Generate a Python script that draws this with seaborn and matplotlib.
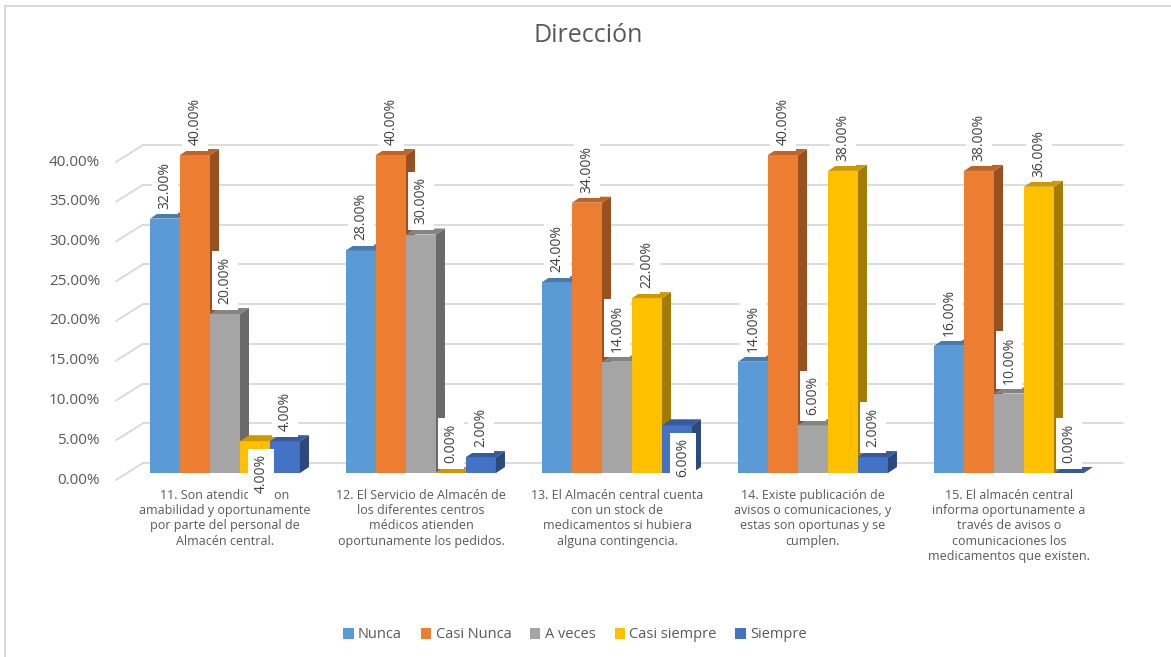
import numpy as np
import pandas as pd
import matplotlib
matplotlib.use("Agg")
import matplotlib.pyplot as plt
import seaborn as sns
from matplotlib.patches import Polygon, Rectangle
from matplotlib.lines import Line2D
from matplotlib.transforms import IdentityTransform
from matplotlib.colors import to_rgb

# ---- data ----
preguntas = [
    "11. Son atendidos con\namabilidad y oportunamente\npor parte del personal de\nAlmacén central.",
    "12. El Servicio de Almacén de\nlos diferentes centros\nmédicos atienden\noportunamente los pedidos.",
    "13. El Almacén central cuenta\ncon un stock de\nmedicamentos si hubiera\nalguna contingencia.",
    "14. Existe publicación de\navisos o comunicaciones, y\nestas son oportunas y se\ncumplen.",
    "15. El almacén central\ninforma oportunamente a\ntravés de avisos o\ncomunicaciones los\nmedicamentos que existen.",
]
respuestas = ["Nunca", "Casi Nunca", "A veces", "Casi siempre", "Siempre"]
nunca = [0.32, 0.28, 0.24, 0.14, 0.16]
casi_nunca = [0.40, 0.40, 0.34, 0.40, 0.38]
a_veces = [0.20, 0.30, 0.14, 0.06, 0.10]
casi_siempre = [0.04, 0.00, 0.22, 0.38, 0.36]
siempre = [0.04, 0.02, 0.06, 0.02, 0.00]
ticks = [0.0, 0.05, 0.10, 0.15, 0.20, 0.25, 0.30, 0.35, 0.40]
titulo = "Dirección"

# ---- style ----
colores = ["#5B9BD5", "#ED7D31", "#A5A5A5", "#FFC000", "#4472C4"]
gris_texto = "#595959"
gris_grid = "#D9D9D9"
# labels drawn just under the top of their bar: (question index, answer index)
etiquetas_abajo = {(0, 3), (2, 4)}

series = [nunca, casi_nunca, a_veces, casi_siempre, siempre]
df = pd.DataFrame(
    [(p, r, v) for r, vals in zip(respuestas, series) for p, v in zip(preguntas, vals)],
    columns=["pregunta", "respuesta", "valor"],
)

DPI = 100
W, H = 1171, 657


def px(n):
    """pixels -> points"""
    return n * 72.0 / DPI


def pct(v):
    return f"{v * 100:.2f}%"


def shade(c, f):
    return tuple(np.clip(np.array(to_rgb(c)) * f, 0, 1))


sns.set_style("white")
plt.rcParams["font.family"] = ["Open Sans", "DejaVu Sans"]

fig = plt.figure(figsize=(W / DPI, H / DPI), dpi=DPI)
fig.patch.set_facecolor("white")
ax = fig.add_axes([127 / W, (H - 473) / H, 980 / W, 318 / H])

sns.barplot(
    data=df, x="pregunta", y="valor", hue="respuesta",
    order=preguntas, hue_order=respuestas, palette=colores,
    saturation=1, width=0.765, gap=0, errorbar=None, legend=False, ax=ax,
)

ax.set_xlim(-0.5, len(preguntas) - 0.5)
ax.set_ylim(0, ticks[-1])
ax.set_facecolor("none")
for s in ax.spines.values():
    s.set_visible(False)
ax.set_xlabel("")
ax.set_ylabel("")
ax.set_xticks([])
ax.set_yticks(ticks)
ax.tick_params(left=False, labelleft=False)

ident = IdentityTransform()
GDX, GDY = 16, 10      # back wall offset (px)
FDX, FDY = -11, -7     # floor front offset (px)
BDX, BDY = 9, 6        # bar depth (px)

# back wall gridlines and floor diagonals
for v in ticks:
    x0, y0 = ax.transData.transform((-0.5, v))
    x1, _ = ax.transData.transform((len(preguntas) - 0.5, v))
    ax.add_line(Line2D([x0 + GDX, x1 + GDX], [y0 + GDY, y0 + GDY], transform=ident,
                       color=gris_grid, lw=1.3, zorder=0.5, clip_on=False))
    ax.add_line(Line2D([x0 + FDX, x0 + GDX], [y0 + FDY, y0 + GDY], transform=ident,
                       color=gris_grid, lw=1.3, zorder=0.5, clip_on=False))
    ax.annotate(pct(v), xy=(0, v), xycoords=("axes fraction", "data"),
                xytext=(px(-27), px(FDY)), textcoords="offset points",
                ha="right", va="center", fontsize=11, color=gris_texto,
                annotation_clip=False)

# 3-D faces and value labels
for k, cont in enumerate(ax.containers):
    col = colores[k]
    z = 2 + 0.1 * k
    for j, bar in enumerate(cont):
        bar.set_zorder(z)
        bar.set_edgecolor("none")
        x, w, h = bar.get_x(), bar.get_width(), bar.get_height()
        xl, yb = ax.transData.transform((x, 0))
        xr, yt = ax.transData.transform((x + w, h))
        top = Polygon([(xl, yt), (xr, yt), (xr + BDX, yt + BDY), (xl + BDX, yt + BDY)],
                      closed=True, transform=ident, fc=shade(col, 0.80), ec="none",
                      zorder=z, clip_on=False)
        side = Polygon([(xr, yb), (xr, yt), (xr + BDX, yt + BDY), (xr + BDX, yb + BDY)],
                       closed=True, transform=ident, fc=shade(col, 0.64), ec="none",
                       zorder=z, clip_on=False)
        ax.add_patch(side)
        ax.add_patch(top)

        if (j, k) in etiquetas_abajo:
            off, va = (px(6), px(-13)), "top"
        else:
            off, va = (0, px(10)), "bottom"
        ax.annotate(pct(series[k][j]), xy=(x + w / 2, h), xycoords="data",
                    xytext=off, textcoords="offset points",
                    rotation=90, ha="center", va=va, fontsize=10, color="#404040",
                    bbox=dict(boxstyle="square,pad=0.4", fc="white", ec="none"),
                    zorder=20, annotation_clip=False)

# category labels
for j, q in enumerate(preguntas):
    ax.annotate(q, xy=(j, 0), xycoords=("data", "axes fraction"),
                xytext=(0, px(-16)), textcoords="offset points",
                ha="center", va="top", multialignment="center",
                fontsize=9, color=gris_texto, linespacing=1.22, zorder=1,
                annotation_clip=False)

fig.text(588 / W, 1 - 35 / H, titulo, ha="center", va="center",
         fontsize=18, color=gris_texto)

handles = [Rectangle((0, 0), 1, 1, fc=c, ec="none") for c in colores]
fig.legend(handles, respuestas, loc="center", bbox_to_anchor=(575 / W, 1 - 635 / H),
           ncol=5, frameon=False, fontsize=10.5, handlelength=0.7, handleheight=0.7,
           handletextpad=0.3, columnspacing=1.3, labelcolor=gris_texto)

fig.add_artist(Rectangle((5 / W, -0.1), 1.2, 1.1 - 6 / H, transform=fig.transFigure,
                         fill=False, ec=gris_grid, lw=1.5))

fig.savefig("out.png", dpi=DPI)
